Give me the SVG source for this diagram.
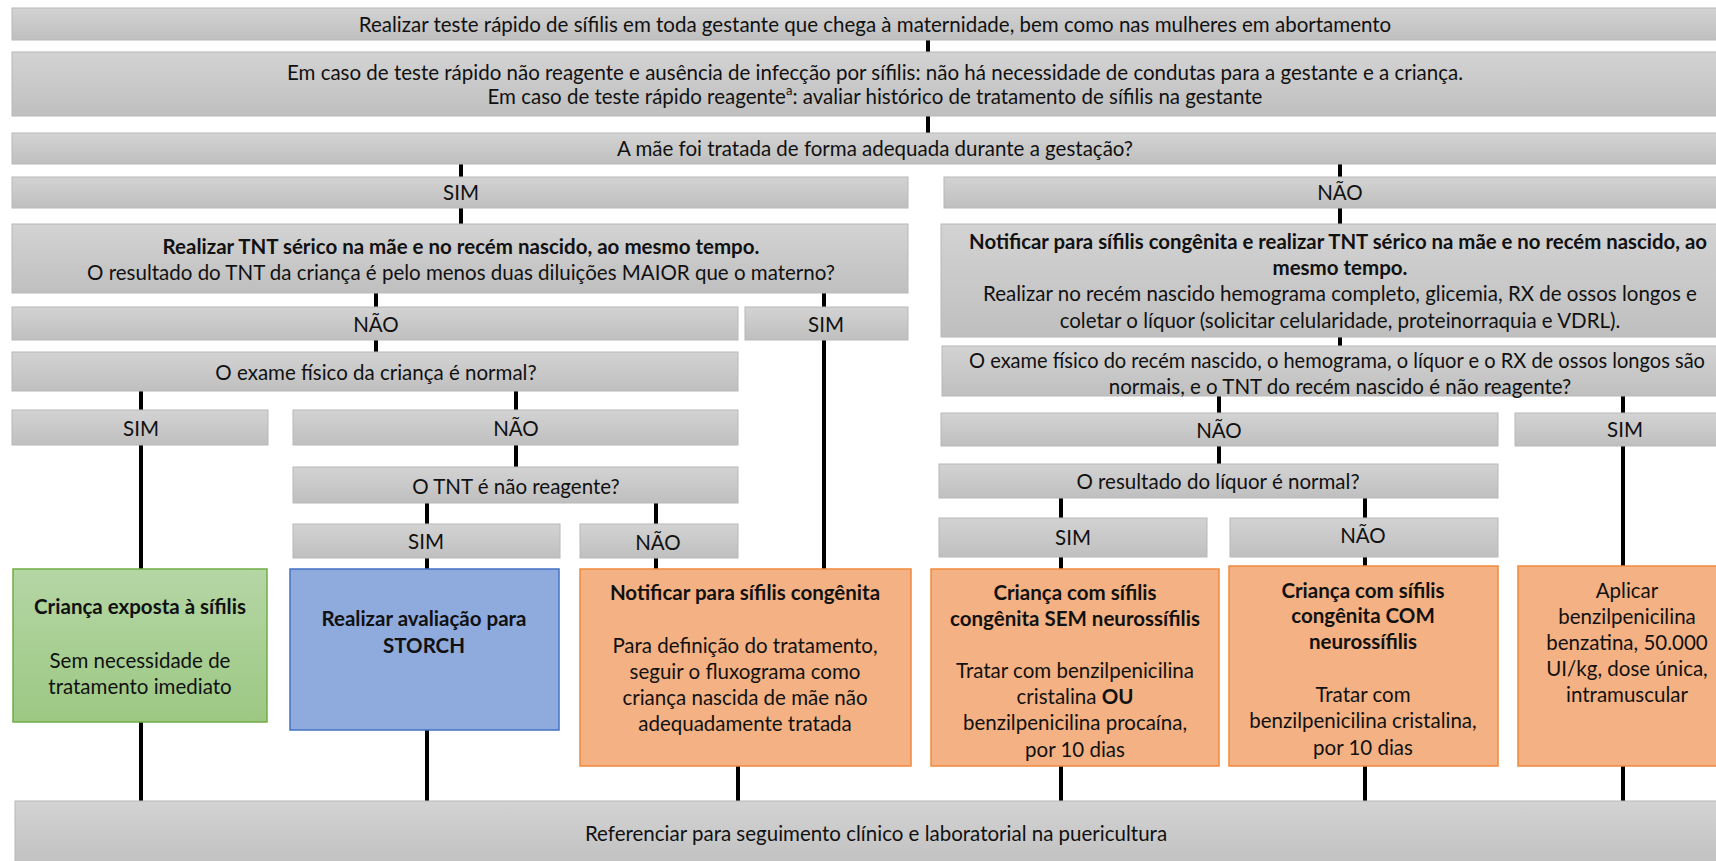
<svg xmlns="http://www.w3.org/2000/svg" width="1716" height="861" viewBox="0 0 1716 861">
<defs>
<linearGradient id="gGray" x1="0" y1="0" x2="0" y2="1">
<stop offset="0" stop-color="#d3d3d3"/>
<stop offset="1" stop-color="#bfbfbf"/>
</linearGradient>
<linearGradient id="gGreen" x1="0" y1="0" x2="0" y2="1">
<stop offset="0" stop-color="#b5d6a5"/>
<stop offset="1" stop-color="#9cc883"/>
</linearGradient>
</defs>
<style>
.g{fill:url(#gGray);stroke:#b8b8b8;stroke-width:1}
.gr{fill:url(#gGreen);stroke:#70ad47;stroke-width:1.5}
.bl{fill:#8faadc;stroke:#4472c4;stroke-width:1.5}
.or{fill:#f4b183;stroke:#f08a3e;stroke-width:1.5}
text{font-family:Lato,"Liberation Sans",sans-serif;font-size:20.5px;fill:#111;text-anchor:middle;dominant-baseline:central}
.b{font-weight:bold}
#connectors line{stroke:#000;stroke-width:4}
</style>
<rect width="1716" height="861" fill="#fff"/>
<g id="connectors">
<line x1="928" y1="40" x2="928" y2="52"/>
<line x1="928" y1="116" x2="928" y2="133"/>
<line x1="461" y1="164" x2="461" y2="177"/>
<line x1="1340" y1="164" x2="1340" y2="177"/>
<line x1="461" y1="208" x2="461" y2="224"/>
<line x1="1340" y1="208" x2="1340" y2="224"/>
<line x1="376" y1="293" x2="376" y2="307"/>
<line x1="824" y1="293" x2="824" y2="307"/>
<line x1="376" y1="340" x2="376" y2="352"/>
<line x1="824" y1="340" x2="824" y2="569"/>
<line x1="141" y1="391" x2="141" y2="410"/>
<line x1="516" y1="391" x2="516" y2="410"/>
<line x1="141" y1="445" x2="141" y2="569"/>
<line x1="516" y1="445" x2="516" y2="467"/>
<line x1="427" y1="503" x2="427" y2="524"/>
<line x1="656" y1="503" x2="656" y2="524"/>
<line x1="427" y1="558" x2="427" y2="569"/>
<line x1="656" y1="558" x2="656" y2="569"/>
<line x1="141" y1="722" x2="141" y2="801"/>
<line x1="427" y1="730" x2="427" y2="801"/>
<line x1="738" y1="766" x2="738" y2="801"/>
<line x1="1340" y1="337" x2="1340" y2="346"/>
<line x1="1219" y1="396" x2="1219" y2="413"/>
<line x1="1623" y1="396" x2="1623" y2="413"/>
<line x1="1219" y1="446" x2="1219" y2="464"/>
<line x1="1623" y1="446" x2="1623" y2="566"/>
<line x1="1061" y1="498" x2="1061" y2="518"/>
<line x1="1365" y1="498" x2="1365" y2="518"/>
<line x1="1061" y1="557" x2="1061" y2="569"/>
<line x1="1365" y1="557" x2="1365" y2="566"/>
<line x1="1061" y1="766" x2="1061" y2="801"/>
<line x1="1365" y1="766" x2="1365" y2="801"/>
<line x1="1623" y1="766" x2="1623" y2="801"/>
</g>
<g id="n1"><rect class="g" x="12" y="8" width="1726" height="32"/><text x="875" y="24">Realizar teste rápido de sífilis em toda gestante que chega à maternidade, bem como nas mulheres em abortamento</text></g>
<g id="n2"><rect class="g" x="12" y="52" width="1726" height="64"/><text x="875" y="72">Em caso de teste rápido não reagente e ausência de infecção por sífilis: não há necessidade de condutas para a gestante e a criança.</text><text x="875" y="96">Em caso de teste rápido reagente<tspan font-size="13" dy="-6">a</tspan><tspan dy="6">: avaliar histórico de tratamento de sífilis na gestante</tspan></text></g>
<g id="n3"><rect class="g" x="12" y="133" width="1726" height="31"/><text x="875" y="148">A mãe foi tratada de forma adequada durante a gestação?</text></g>
<g id="n4"><rect class="g" x="12" y="177" width="896" height="31"/><text x="461" y="192">SIM</text></g>
<g id="n5"><rect class="g" x="944" y="177" width="794" height="31"/><text x="1340" y="192">NÃO</text></g>
<g id="n6"><rect class="g" x="12" y="224" width="896" height="69"/><text class="b" x="461" y="246">Realizar TNT sérico na mãe e no recém nascido, ao mesmo tempo.</text><text x="461" y="272">O resultado do TNT da criança  é pelo menos duas diluições MAIOR que o materno?</text></g>
<g id="n7"><rect class="g" x="12" y="307" width="726" height="33"/><text x="376" y="324">NÃO</text></g>
<g id="n8"><rect class="g" x="745" y="307" width="163" height="33"/><text x="826" y="324">SIM</text></g>
<g id="n9"><rect class="g" x="12" y="352" width="726" height="39"/><text x="376" y="372">O exame físico da criança é normal?</text></g>
<g id="n10"><rect class="g" x="12" y="410" width="256" height="35"/><text x="141" y="428">SIM</text></g>
<g id="n11"><rect class="g" x="293" y="410" width="445" height="35"/><text x="516" y="428">NÃO</text></g>
<g id="n12"><rect class="g" x="293" y="467" width="445" height="36"/><text x="516" y="486">O TNT é não reagente?</text></g>
<g id="n13"><rect class="g" x="293" y="524" width="267" height="34"/><text x="426" y="541">SIM</text></g>
<g id="n14"><rect class="g" x="580" y="524" width="158" height="34"/><text x="658" y="542">NÃO</text></g>
<g id="n15"><rect class="gr" x="13" y="569" width="254" height="153"/><text class="b" x="140" y="606">Criança exposta à sífilis</text><text x="140" y="660">Sem necessidade de</text><text x="140" y="686">tratamento imediato</text></g>
<g id="n16"><rect class="bl" x="290" y="569" width="269" height="161"/><text class="b" x="424" y="618">Realizar avaliação para</text><text class="b" x="424" y="645">STORCH</text></g>
<g id="n17"><rect class="or" x="580" y="569" width="331" height="197"/><text class="b" x="745" y="592">Notificar para sífilis congênita</text><text x="745" y="645">Para definição do tratamento,</text><text x="745" y="671">seguir o fluxograma como</text><text x="745" y="697">criança nascida de mãe não</text><text x="745" y="723">adequadamente tratada</text></g>
<g id="n18"><rect class="g" x="941" y="224" width="797" height="113"/><text class="b" x="1338" y="241" textLength="738" lengthAdjust="spacingAndGlyphs">Notificar para sífilis congênita e realizar TNT sérico na mãe e no recém nascido, ao</text><text class="b" x="1340" y="267">mesmo tempo.</text><text x="1340" y="293">Realizar no recém nascido hemograma completo, glicemia, RX de ossos longos e</text><text x="1340" y="320">coletar o líquor (solicitar celularidade, proteinorraquia e VDRL).</text></g>
<g id="n19"><rect class="g" x="942" y="346" width="796" height="50"/><text x="1337" y="360" textLength="736" lengthAdjust="spacingAndGlyphs">O exame físico do recém nascido, o hemograma, o líquor e o RX de ossos longos são</text><text x="1340" y="386">normais, e o TNT do recém nascido é não reagente?</text></g>
<g id="n20"><rect class="g" x="941" y="413" width="557" height="33"/><text x="1219" y="430">NÃO</text></g>
<g id="n21"><rect class="g" x="1515" y="413" width="223" height="33"/><text x="1625" y="429">SIM</text></g>
<g id="n22"><rect class="g" x="939" y="464" width="559" height="34"/><text x="1218" y="481">O resultado do líquor é normal?</text></g>
<g id="n23"><rect class="g" x="939" y="518" width="268" height="39"/><text x="1073" y="537">SIM</text></g>
<g id="n24"><rect class="g" x="1230" y="518" width="268" height="39"/><text x="1363" y="535">NÃO</text></g>
<g id="n25"><rect class="or" x="931" y="569" width="288" height="197"/><text class="b" x="1075" y="592">Criança com sífilis</text><text class="b" x="1075" y="618">congênita SEM neurossífilis</text><text x="1075" y="670">Tratar com benzilpenicilina</text><text x="1075" y="696">cristalina <tspan class="b">OU</tspan></text><text x="1075" y="722">benzilpenicilina procaína,</text><text x="1075" y="749">por 10 dias</text></g>
<g id="n26"><rect class="or" x="1229" y="566" width="269" height="200"/><text class="b" x="1363" y="590">Criança com sífilis</text><text class="b" x="1363" y="615">congênita COM</text><text class="b" x="1363" y="641">neurossífilis</text><text x="1363" y="694">Tratar com</text><text x="1363" y="720">benzilpenicilina cristalina,</text><text x="1363" y="747">por 10 dias</text></g>
<g id="n27"><rect class="or" x="1518" y="566" width="220" height="200"/><text x="1627" y="590">Aplicar</text><text x="1627" y="616">benzilpenicilina</text><text x="1627" y="642">benzatina, 50.000</text><text x="1627" y="668">UI/kg, dose única,</text><text x="1627" y="694">intramuscular</text></g>
<g id="n28"><rect class="g" x="15" y="801" width="1723" height="70"/><text x="876" y="833">Referenciar para seguimento clínico e laboratorial na puericultura</text></g>
</svg>
